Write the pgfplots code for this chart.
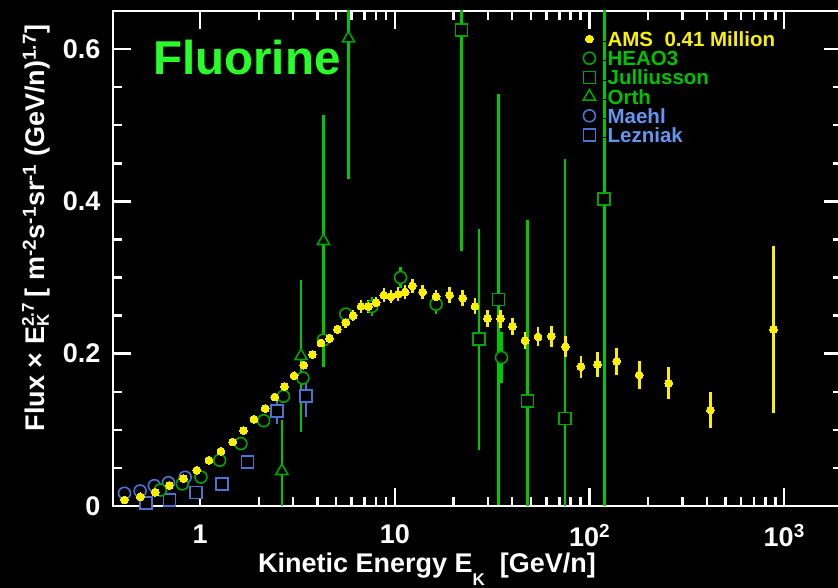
\documentclass[border=0pt]{standalone}
\usepackage{pgfplots}
\pgfplotsset{compat=1.18}
\usepackage{fontspec}
\setmainfont{Liberation Sans}

\definecolor{amsyellow}{RGB}{250,240,0}
\definecolor{grnbar}{RGB}{0,200,0}
\definecolor{grnmark}{RGB}{0,165,0}
\definecolor{grntext}{RGB}{0,195,0}
\definecolor{blumark}{RGB}{75,115,210}
\definecolor{blutext}{RGB}{100,150,240}
\definecolor{fluor}{RGB}{40,255,40}

% small stacked super/subscript after a letter
\newcommand\supsub[2]{\rlap{\raisebox{11pt}{\fontsize{17}{17}\selectfont #1}}\raisebox{-4pt}{\fontsize{17}{17}\selectfont #2}\hspace{10pt}}

% AMS fluorine flux x E^2.7 : E [GeV/n], flux, error
\pgfplotstableread{
E      F      dF
0.409  0.008  0.002
0.493  0.012  0.002
0.589  0.018  0.002
0.695  0.027  0.002
0.821  0.036  0.002
0.962  0.047  0.002
1.11   0.060  0.002
1.28   0.072  0.003
1.47   0.084  0.003
1.67   0.099  0.003
1.89   0.114  0.003
2.16   0.128  0.003
2.42   0.143  0.003
2.71   0.157  0.003
3.04   0.171  0.004
3.40   0.185  0.004
3.77   0.199  0.004
4.18   0.214  0.005
4.62   0.220  0.006
5.07   0.232  0.006
5.60   0.241  0.007
6.11   0.250  0.007
6.71   0.262  0.008
7.32   0.262  0.008
8.02   0.267  0.008
8.78   0.277  0.009
9.57   0.275  0.009
10.4   0.278  0.009
11.3   0.281  0.009
12.3   0.289  0.009
13.9   0.281  0.0095
16.3   0.275  0.009
19.1   0.277  0.010
22.3   0.273  0.010
25.8   0.262  0.0105
29.9   0.246  0.011
34.9   0.246  0.012
40.2   0.236  0.0115
46.7   0.217  0.0115
54.4   0.222  0.0125
63.7   0.223  0.014
75.2   0.209  0.014
90.2   0.183  0.0145
110    0.186  0.016
138    0.190  0.0175
180    0.172  0.019
255    0.161  0.021
418    0.126  0.024
881    0.232  0.110
}\amsdata

\pgfplotstableread{
E      F      dF
0.625  0.021  0
0.81   0.029  0
1.01   0.038  0
1.26   0.060  0
1.62   0.082  0
2.12   0.112  0
2.68   0.144  0
3.37   0.168  0
4.30   0.218  0
5.60   0.252  0
7.62   0.262  0.013
10.7   0.300  0.014
16.3   0.265  0.013
35.3   0.195  0.033
}\heaodata

\pgfplotstableread{
E      F       dF
22.0   0.625   0.29
27.1   0.219   0.145
34.0   0.271   0.27
48.0   0.1375  0.238
74.9   0.115   0.34
119    0.403   0.45
}\juldata

\pgfplotstableread{
E      F      dF
2.63   0.046  0.067
3.30   0.197  0.100
4.30   0.348  0.165
5.78   0.614  0.184
}\orthdata

\pgfplotstableread{
E      F
0.409  0.0167
0.492  0.0197
0.582  0.0267
0.688  0.0306
0.838  0.0377
}\maehldata

\pgfplotstableread{
E      F       dF
0.526  0.0043  0
0.695  0.0079  0
0.95   0.0175  0
1.30   0.0285  0
1.75   0.058   0.008
2.48   0.125   0.017
3.50   0.1445  0.028
}\lezdata

\begin{document}
\bfseries
\begin{tikzpicture}
\path[use as bounding box, fill=black] (-113pt,-82pt) rectangle (725pt,506pt);
\begin{axis}[
  scale only axis, width=729pt, height=495pt,
  at={(0pt,0pt)}, anchor=south west,
  xmode=log, xmin=0.357, xmax=1980,
  ymin=0, ymax=0.65,
  axis line style={white, line width=2.6pt},
  every tick/.style={white, line width=2.4pt},
  major tick length=18pt, minor tick length=9pt,
  tick align=inside,
  xtick={1,10,100,1000},
  xticklabels={1,10,10\textsuperscript{2},10\textsuperscript{3}},
  ytick={0,0.2,0.4,0.6},
  yticklabels={0,0.2,0.4,0.6},
  minor ytick={0.05,0.1,0.15,0.25,0.3,0.35,0.45,0.5,0.55},
  ticklabel style={white, font=\fontsize{27}{27}\selectfont\bfseries},
  xticklabel style={yshift=-15pt},
  yticklabel style={xshift=-9pt},
  xlabel={Kinetic Energy E\raisebox{-13pt}{\fontsize{17}{17}\selectfont K}\ \ [GeV/n]},
  ylabel={Flux \texttimes\ E\supsub{2.7}{K} [ m\textsuperscript{-2}s\textsuperscript{-1}sr\textsuperscript{-1} (GeV/n)\textsuperscript{1.7}]},
  xlabel style={white, font=\fontsize{27}{27}\selectfont\bfseries, at={(axis description cs:0.4307,-0.1347)}, anchor=base},
  ylabel style={white, font=\fontsize{27}{27}\selectfont\bfseries, at={(axis description cs:-0.0933,0.5616)}, anchor=base},
  reverse legend,
  legend cell align=left,
  legend style={at={(axis description cs:0.642,0.958)}, anchor=north west,
    draw=none, fill=none, inner sep=0pt,
    font=\fontsize{20.5}{20}\selectfont\bfseries,
    nodes={inner sep=0pt, text height=14.5pt, text depth=4.5pt},
    row sep=0.2pt},
  legend image code/.code={%
    \path (0pt,0pt) -- (26pt,0pt);
    \draw[#1] plot coordinates {(8pt,2.5pt)};},
]
% drawn back to front; the legend is reversed so AMS heads it
\addplot[only marks, mark=square*, mark size=6pt,
  mark options={draw=blumark, fill=black, line width=1.6pt},
  error bars/.cd, y dir=both, y explicit,
  error bar style={blumark, line width=2.2pt}, error mark=none]
  table[x=E, y=F, y error=dF] {\lezdata};
\addlegendentry{\textcolor{blutext}{Lezniak}}

\addplot[only marks, mark=*, mark size=6pt,
  mark options={draw=blumark, fill=black, line width=1.6pt}]
  table[x=E, y=F] {\maehldata};
\addlegendentry{\textcolor{blutext}{Maehl}}

\addplot[only marks, mark=triangle*, mark size=7pt,
  mark options={draw=grnmark, fill=black, line width=1.6pt},
  error bars/.cd, y dir=both, y explicit,
  error bar style={grnbar, line width=2.6pt}, error mark=none]
  table[x=E, y=F, y error=dF] {\orthdata};
\addlegendentry{\textcolor{grntext}{Orth}}

\addplot[only marks, mark=square*, mark size=6pt,
  mark options={draw=grnmark, fill=black, line width=1.6pt},
  error bars/.cd, y dir=both, y explicit,
  error bar style={grnbar, line width=2.6pt}, error mark=none]
  table[x=E, y=F, y error=dF] {\juldata};
\addlegendentry{\textcolor{grntext}{Julliusson}}

\addplot[only marks, mark=*, mark size=6pt,
  mark options={draw=grnmark, fill=black, line width=1.6pt},
  error bars/.cd, y dir=both, y explicit,
  error bar style={grnbar, line width=2.6pt}, error mark=none]
  table[x=E, y=F, y error=dF] {\heaodata};
\addlegendentry{\textcolor{grntext}{HEAO3}}

\addplot[only marks, mark=*, mark size=3.9pt,
  mark options={draw=amsyellow, fill=amsyellow, line width=0pt},
  error bars/.cd, y dir=both, y explicit,
  error bar style={amsyellow, line width=2.6pt}, error mark=none]
  table[x=E, y=F, y error=dF] {\amsdata};
\addlegendentry{\textcolor{amsyellow}{AMS\ \ 0.41 Million}}

\node[anchor=base west, inner sep=0pt, text=fluor,
  font=\fontsize{47.5}{47.5}\selectfont\bfseries]
  at (axis description cs:0.0549,0.8727) {Fluorine};
\end{axis}
\end{tikzpicture}
\end{document}
